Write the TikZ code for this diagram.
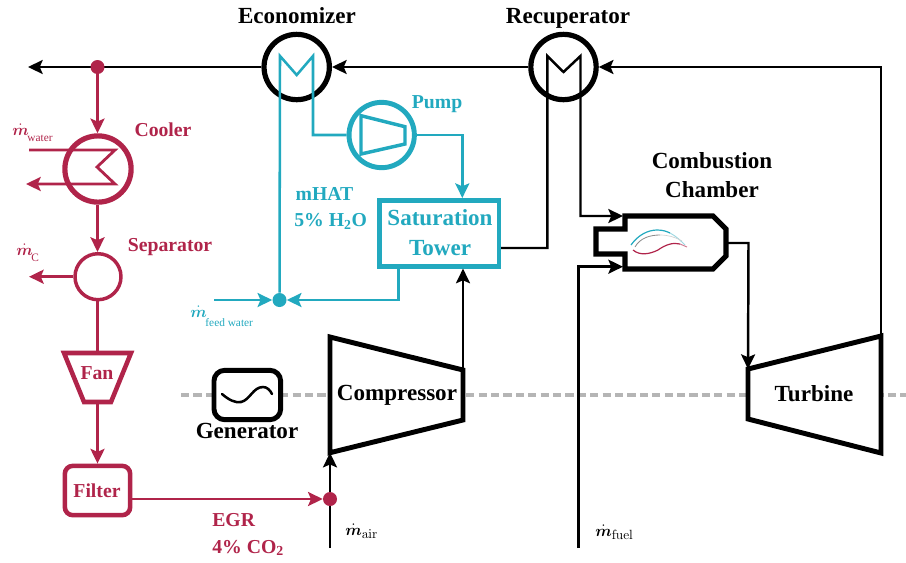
\documentclass[tikz,border=0pt]{standalone}
\usepackage{amsmath}
\usepackage[no-math]{fontspec}
\setmainfont{Liberation Serif}
\usetikzlibrary{arrows.meta}
\definecolor{egr}{HTML}{B0244A}
\definecolor{hat}{HTML}{22A9BF}
\definecolor{shaft}{HTML}{B5B5B5}
\DeclareMathSizes{13}{13}{10}{8}
\newcommand{\mdot}[2]{$\dot{\boldsymbol{m}}$\kern-1pt\raisebox{#2}{\fontsize{8.5}{10}\selectfont #1}}
\newcommand{\mdotm}[1]{$\dot{\boldsymbol{m}}_{\mathrm{#1}}$}
\tikzset{
  tip/.style={-{Stealth[length=11pt,width=10.5pt,inset=2.2pt]}},
  blk/.style={black,line width=1.85pt},
  red/.style={egr,line width=2.1pt},
  cy/.style={hat,line width=1.9pt},
  big/.style={font=\fontsize{17.3}{20}\selectfont\bfseries,inner sep=0pt,align=center},
  mid/.style={font=\fontsize{14.8}{18}\selectfont\bfseries,inner sep=0pt,align=center},
  flow/.style={font=\fontsize{13}{15}\selectfont,inner sep=0pt,anchor=base west},
  hx/.style={circle,draw,fill=white,minimum size=#1,inner sep=0pt},
  dotn/.style={circle,fill=#1,minimum size=10.5pt,inner sep=0pt},
}
\begin{document}
\begin{tikzpicture}[x=0.75pt,y=-0.75pt,line join=miter]
\useasboundingbox (0,0) rectangle (906,562);
% shaft
\coordinate (s1) at (181,395); \coordinate (s2) at (906,395);
\draw[shaft,line width=2.3pt,dash pattern=on 6.2pt off 3.1pt] (s1) -- (s2);

% heat exchangers and machines
\node[hx=49pt,line width=3.9pt] (eco) at (296.7,67) {};
\node[hx=49pt,line width=3.9pt] (rec) at (563.5,67) {};
\node[hx=49.7pt,draw=egr,line width=3.9pt] (cool) at (98,169) {};
\node[hx=34.5pt,draw=egr,line width=2.6pt] (sep) at (98,276.7) {};
\node[hx=49pt,draw=hat,line width=3.7pt] (pump) at (381.7,135) {};
\draw[hat,line width=2.6pt,line join=miter] (361,115.7) -- (405,126.7) -- (405,144) -- (361,154) -- cycle;

\node[draw=hat,line width=3.4pt,fill=white,minimum width=89.5pt,minimum height=49.5pt,inner sep=0pt] (tower) at (439.2,233.3) {};
\node[draw=egr,line width=3.4pt,fill=white,rounded corners=6pt,minimum width=49pt,minimum height=37pt,inner sep=0pt] (filter) at (97.5,490.5) {};
\node[draw=black,line width=3.7pt,fill=white,rounded corners=8pt,minimum width=50pt,minimum height=37pt,inner sep=0pt] (gen) at (247.3,395) {};

% compressor, turbine, fan, chamber
\coordinate (c1) at (330,337); \coordinate (c2) at (463,370); \coordinate (c3) at (463,420); \coordinate (c4) at (330,452.7);
\draw[line width=3.7pt,fill=white] (c1) -- (c2) -- (c3) -- (c4) -- cycle;
\coordinate (t1) at (748,369); \coordinate (t2) at (881,336); \coordinate (t3) at (881,453); \coordinate (t4) at (748,419);
\draw[line width=3.7pt,fill=white] (t1) -- (t2) -- (t3) -- (t4) -- cycle;
\coordinate (f1) at (64,353); \coordinate (f2) at (131,353); \coordinate (f3) at (111,402); \coordinate (f4) at (84,402);
\draw[egr,line width=3.4pt,fill=white] (f1) -- (f2) -- (f3) -- (f4) -- cycle;
\coordinate (ftop) at (97.5,351); \coordinate (fbot) at (97.5,404);
\coordinate (cc1) at (625,216); \coordinate (cc2) at (713,216); \coordinate (cc3) at (726,229);
\coordinate (cc4) at (726,256); \coordinate (cc5) at (713,269); \coordinate (cc6) at (625,269);
\coordinate (cc7) at (625,254); \coordinate (cc8) at (596,254); \coordinate (cc9) at (596,229); \coordinate (cc10) at (625,229);
\draw[line width=3.9pt,fill=white] (cc1) -- (cc2) -- (cc3) -- (cc4) -- (cc5) -- (cc6) -- (cc7) -- (cc8) -- (cc9) -- (cc10) -- cycle;

% flame
\draw[hat,line width=0.9pt] (631,245) .. controls (638,235) and (648,230) .. (657,230) .. controls (662,230) and (666,231) .. (670,233);
\draw[hat!45,line width=0.7pt] (670,233) .. controls (676,236) and (681,241) .. (685,245);
\draw[black!45,line width=0.6pt] (635,247) .. controls (640,238) and (650,235) .. (660,235);
\draw[black!18,line width=0.5pt] (660,235) .. controls (668,235) and (675,237) .. (682,241);
\draw[egr,line width=0.9pt] (633,250) .. controls (640,256) and (650,254) .. (658,250) .. controls (665,245) and (673,242) .. (680,244);
\draw[egr!60,line width=0.7pt] (680,244) -- (687,247);

% black connectors
\coordinate (outl) at (28,67);
\draw[blk,tip] (eco.west) -- (outl);
\draw[blk,tip] (rec.west) -- (eco.east);
\coordinate (tr) at (881,67);
\draw[blk,tip] (t2) -- (tr) -- (rec.east);
% recuperator coil
\coordinate (r1) at (547.3,248); \coordinate (r2) at (547.3,56); \coordinate (r3) at (563.5,72); \coordinate (r4) at (580.5,56); \coordinate (r5) at (580.5,216); \coordinate (ccin) at (623,216);
\draw[blk,tip] (tower.east |- r1) -- (r1) -- (r2) -- (r3) -- (r4) -- (r5) -- (ccin);
\coordinate (ft0) at (578.3,548); \coordinate (ft1) at (578.3,266.7); \coordinate (ft2) at (623,266.7);
\draw[blk,tip] (ft0) -- (ft1) -- (ft2);
\coordinate (cco) at (727.5,243); \coordinate (cc11) at (748.5,243);
\draw[blk,tip] (cco) -- (cc11) -- (t1);
\draw[blk,tip] (c2) -- (c2 |- tower.south);
\coordinate (air0) at (330,548);
\draw[blk,tip] (air0) -- (c4);

% red connectors
\node[dotn=egr] (dotA) at (97.5,67) {};
\draw[red,tip] (dotA) -- (dotA |- cool.north);
\draw[red,tip] (cool.south -| ftop) -- (sep.north -| ftop);
\draw[red] (sep.south -| ftop) -- (ftop);
\draw[red,tip] (fbot) -- (filter.north);
\coordinate (sepl) at (29,276.7);
\draw[red,tip] (sep.west) -- (sepl);
\coordinate (w1) at (29,150); \coordinate (w2) at (115,150); \coordinate (w3) at (97,167); \coordinate (w4) at (115,184); \coordinate (w5) at (26,184);
\draw[red,tip] (w1) -- (w2) -- (w3) -- (w4) -- (w5);
\node[dotn=egr] (dotB) at (330,499) {};
\draw[red,tip] (filter.east |- dotB) -- (dotB);

% cyan connectors
\node[dotn=hat] (dotC) at (279.5,300) {};
\coordinate (e1) at (280,56); \coordinate (e2) at (296.7,75); \coordinate (e3) at (313,56); \coordinate (e4) at (313,135);
\draw[cy] (dotC) -- (e1) -- (e2) -- (e3) -- (e4) -- (pump.west);
\coordinate (p1) at (462.3,135);
\draw[cy,tip] (pump.east) -- (p1) -- (p1 |- tower.north);
\coordinate (tb) at (398.3,300);
\draw[cy,tip] (tb |- tower.south) -- (tb) -- (dotC);
\coordinate (fw) at (214,300);
\draw[cy,tip] (fw) -- (dotC);

% generator wave
\draw[line width=1.9pt,line cap=round] (222,394) .. controls (229,400) and (235,403) .. (241,402) .. controls (250,400) and (253,387) .. (263,387) .. controls (267,387) and (270,390) .. (272,394);

% labels
\node[big,anchor=base] (leco) at (297,23) {Economizer};
\node[big,anchor=base] (lrec) at (568,23) {Recuperator};
\node[big,text=hat] (ltower) at (440,232.5) {Saturation\\[2pt]Tower};
\node[big] (lcc) at (712,175) {Combustion\\[2pt]Chamber};
\node[big,anchor=base] (lcomp) at (397,400.7) {Compressor};
\node[big,anchor=base] (lturb) at (814,401.5) {Turbine};
\node[big,anchor=base] (lgen) at (247,438) {Generator};
\node[mid,text=hat,anchor=base] (lpump) at (437,108) {Pump};
\node[mid,text=hat,align=left,anchor=west] (lhat) at (294,208.5) {\hspace*{1pt}mHAT\\[2pt]5\% H\textsubscript{2}O};
\node[mid,text=egr,anchor=base] (lcool) at (163,136) {Cooler};
\node[mid,text=egr,anchor=base] (lsep) at (170,251.7) {Separator};
\node[mid,text=egr,anchor=base] (lfan) at (97,379) {Fan};
\node[mid,text=egr,anchor=base] (lfil) at (97,497.7) {Filter};
\node[mid,text=egr,anchor=base west] (legr) at (212,526.7) {EGR};
\node[mid,text=egr,anchor=base west] (lco) at (212,553) {4\% CO\textsubscript{2}};
\node[flow,text=egr] (mw) at (12,135) {\mdot{water}{-4.5pt}};
\node[flow,text=egr] (mc) at (16,255) {\mdot{C}{-4.5pt}};
\node[flow,text=hat] (mf) at (190,317) {\mdot{feed water}{-7pt}};
\node[flow] (ma) at (345,535) {\mdotm{air}};
\node[flow] (mfu) at (595,536) {\mdotm{fuel}};
\end{tikzpicture}
\end{document}
